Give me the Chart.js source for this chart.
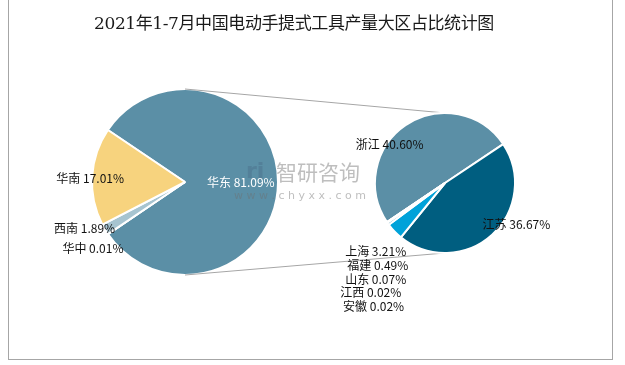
<!DOCTYPE html>
<html>
<head>
<meta charset="utf-8">
<script src="https://cdn.jsdelivr.net/npm/chart.js@4.4.1/dist/chart.umd.min.js"></script>
<style>
  body { margin: 0; background: #fff; }
  #wrap { position: relative; width: 625px; height: 365px; overflow: hidden; }
  #frame { position: absolute; left: 8px; top: -2px; width: 605px; height: 362px; border: 1px solid #a6a6a6; box-sizing: border-box; }
  canvas { position: absolute; left: 0; top: 0; }
  #title { position: absolute; left: 0; width: 588px; top: 9px; text-align: center;
           font: 17px "DejaVu Serif", "Noto Sans CJK SC", serif; color: #1a1a1a; letter-spacing: -0.4px; }
</style>
</head>
<body>
<div id="wrap">
  <div id="frame"></div>
  <canvas id="mainPie" width="625" height="365"></canvas>
  <canvas id="subPie" width="625" height="365"></canvas>
  <div id="title">2021年1-7月中国电动手提式工具产量大区占比统计图</div>
</div>
<script>
// 大区占比 (left pie)
const regions = ["华东", "华中", "西南", "华南"];
const regionShare = [81.09, 0.01, 1.89, 17.01];
const regionColors = ["#5b8fa6", "#c9dbe3", "#a7c4d0", "#f7d37e"];

// 华东 breakdown (right pie)
const provinces = ["浙江", "江苏", "上海", "福建", "山东", "江西", "安徽"];
const provinceShare = [40.60, 36.67, 3.21, 0.49, 0.07, 0.02, 0.02];
const provinceColors = ["#5b8fa6", "#005e80", "#00a2d9", "#7fb2c8", "#2f6e8c", "#9cc3d6", "#3c83a6"];

// label spots, relative to pie centre, in units of radius
const regionLabelAt = { "华东": [0.6, 0, "#fff"], "华南": [-1.02, -0.04], "西南": [-1.08, 0.5], "华中": [-0.99, 0.71] };
const provinceLabelAt = {
  "浙江": [-0.79, -0.55], "江苏": [1.02, 0.59], "上海": [-0.99, 0.98], "福建": [-0.96, 1.18],
  "山东": [-0.99, 1.38], "江西": [-1.06, 1.57], "安徽": [-1.02, 1.76]
};

const labelFont = '12px "Noto Sans CJK SC", "Microsoft YaHei", sans-serif';

function labelPlugin(names, values, spots) {
  return {
    id: 'sliceLabels',
    afterDatasetsDraw(chart) {
      const ctx = chart.ctx;
      const arc = chart.getDatasetMeta(0).data[0];
      const cx = arc.x, cy = arc.y, r = arc.outerRadius;
      ctx.save();
      ctx.font = labelFont;
      ctx.textAlign = 'center';
      ctx.textBaseline = 'middle';
      names.forEach((n, i) => {
        const s = spots[n];
        if (!s) return;
        ctx.fillStyle = s[2] || '#111';
        ctx.fillText(n + ' ' + values[i].toFixed(2) + '%', cx + s[0] * r, cy + s[1] * r);
      });
      ctx.restore();
    }
  };
}

const baseOpts = {
  responsive: false,
  animation: false,
  plugins: { legend: { display: false }, tooltip: { enabled: false }, title: { display: false } }
};

const mainChart = new Chart(document.getElementById('mainPie'), {
  type: 'pie',
  data: { labels: regions, datasets: [{ data: regionShare, backgroundColor: regionColors, borderColor: '#fff', borderWidth: 2 }] },
  options: Object.assign({}, baseOpts, {
    rotation: -56,
    layout: { padding: { left: 91, top: 88, right: 346, bottom: 89 } }
  }),
  plugins: [labelPlugin(regions, regionShare, regionLabelAt)]
});

const watermark = {
  id: 'watermark',
  beforeDatasetsDraw(chart) {
    const ctx = chart.ctx;
    ctx.save();
    ctx.fillStyle = 'rgba(110,110,110,0.45)';
    ctx.font = '21px "Noto Sans CJK SC", sans-serif';
    ctx.textBaseline = 'middle';
    ctx.fillText('智研咨询', 276, 172);
    ctx.font = '11px "DejaVu Sans", sans-serif';
    ctx.fillText('w w w . c h y x x . c o m', 234, 196);
    ctx.fillStyle = 'rgba(70,100,130,0.35)';
    ctx.font = 'bold 22px "DejaVu Sans", sans-serif';
    ctx.fillText('ri', 246, 172);
    ctx.restore();
  }
};

const connector = {
  id: 'connector',
  beforeDatasetsDraw(chart) {
    const a = mainChart.getDatasetMeta(0).data[0];
    const b = chart.getDatasetMeta(0).data[0];
    const ctx = chart.ctx;
    ctx.save();
    ctx.strokeStyle = '#a6a6a6';
    ctx.lineWidth = 1;
    ctx.beginPath();
    ctx.moveTo(a.x, a.y - a.outerRadius);
    ctx.lineTo(b.x, b.y - b.outerRadius);
    ctx.moveTo(a.x, a.y + a.outerRadius);
    ctx.lineTo(b.x, b.y + b.outerRadius);
    ctx.stroke();
    ctx.restore();
  }
};

new Chart(document.getElementById('subPie'), {
  type: 'pie',
  data: { labels: provinces, datasets: [{ data: provinceShare, backgroundColor: provinceColors, borderColor: '#fff', borderWidth: 2 }] },
  options: Object.assign({}, baseOpts, {
    rotation: -124,
    layout: { padding: { left: 374, top: 112, right: 109, bottom: 111 } }
  }),
  plugins: [watermark, connector, labelPlugin(provinces, provinceShare, provinceLabelAt)]
});
</script>
</body>
</html>
